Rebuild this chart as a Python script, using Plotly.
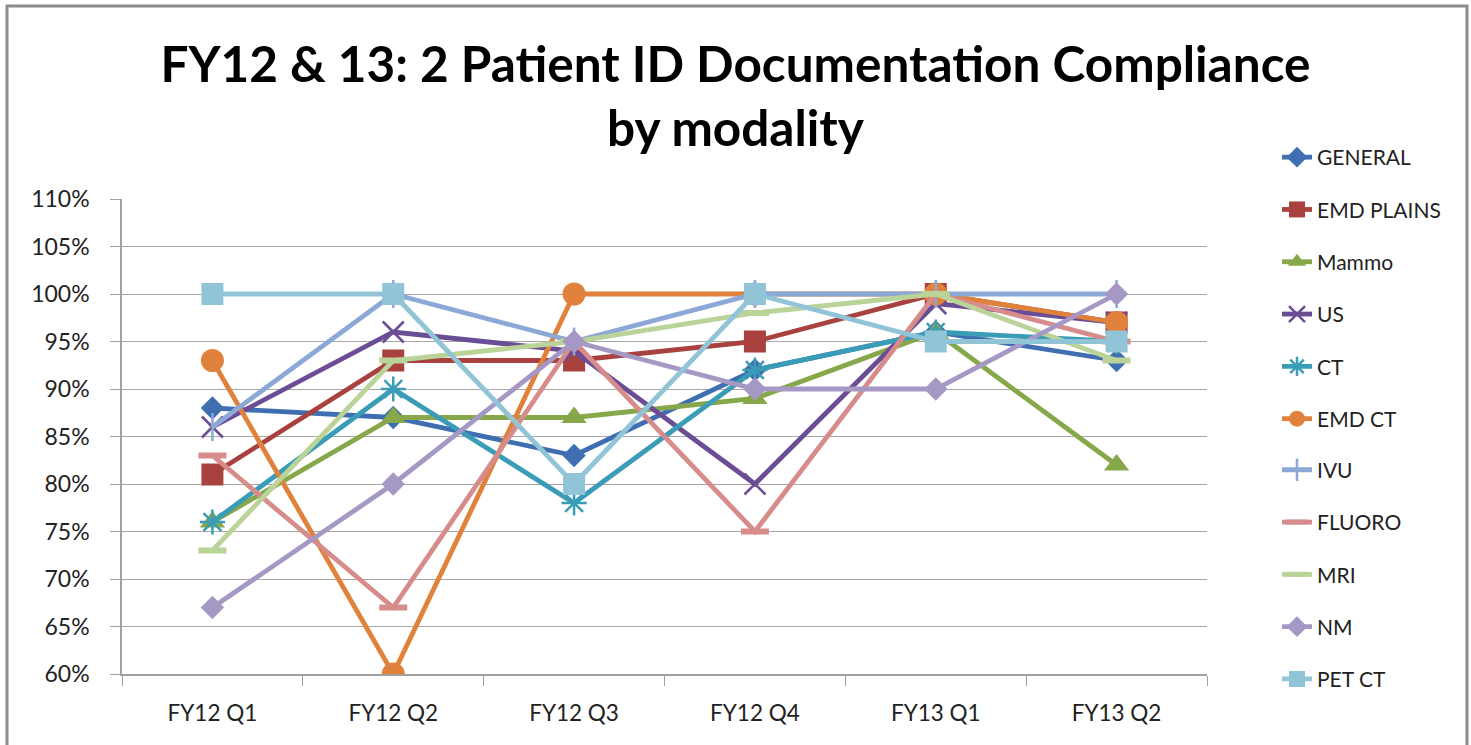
import plotly.graph_objects as go

categories = ["FY12 Q1", "FY12 Q2", "FY12 Q3", "FY12 Q4", "FY13 Q1", "FY13 Q2"]

general    = [0.88, 0.87, 0.83, 0.92, 0.96, 0.93]
emd_plains = [0.81, 0.93, 0.93, 0.95, 1.00, 0.97]
mammo      = [0.76, 0.87, 0.87, 0.89, 0.96, 0.82]
us         = [0.86, 0.96, 0.94, 0.80, 0.99, 0.97]
ct         = [0.76, 0.90, 0.78, 0.92, 0.96, 0.95]
emd_ct     = [0.93, 0.60, 1.00, 1.00, 1.00, 0.97]
ivu        = [0.86, 1.00, 0.95, 1.00, 1.00, 1.00]
fluoro     = [0.83, 0.67, 0.95, 0.75, 1.00, 0.95]
mri        = [0.73, 0.93, 0.95, 0.98, 1.00, 0.93]
nm         = [0.67, 0.80, 0.95, 0.90, 0.90, 1.00]
pet_ct     = [1.00, 1.00, 0.80, 1.00, 0.95, 0.95]

y_ticks = [0.60, 0.65, 0.70, 0.75, 0.80, 0.85, 0.90, 0.95, 1.00, 1.05, 1.10]

series = [
    ("GENERAL", general, "#3F6FB0", "diamond", 18, None),
    ("EMD PLAINS", emd_plains, "#A9423F", "square", 22, None),
    ("Mammo", mammo, "#86A84B", "triangle-up", 22, None),
    ("US", us, "#6A4D94", "x-thin-open", 21, 2.5),
    ("CT", ct, "#3A9CB6", "asterisk-open", 21, 2.5),
    ("EMD CT", emd_ct, "#E0823B", "circle", 23, None),
    ("IVU", ivu, "#8CA8D6", "line-ns-open", 20, 2.5),
    ("FLUORO", fluoro, "#D68C8B", "line-ew-open", 20, 6),
    ("MRI", mri, "#B9D398", "line-ew-open", 20, 6),
    ("NM", nm, "#A698C4", "diamond", 18, None),
    ("PET CT", pet_ct, "#92C4D8", "square", 22, None),
]

FONT = "Lato"
SPLIT = 6  # first legend block holds 6 entries, second the rest

fig = go.Figure()
for i, (name, vals, color, sym, size, lw) in enumerate(series):
    marker = dict(symbol=sym, size=size, color=color)
    if lw is not None:
        marker["line"] = dict(color=color, width=lw)
    else:
        marker["line"] = dict(width=0)
    fig.add_trace(go.Scatter(
        x=categories, y=vals, name=name, mode="lines+markers",
        line=dict(color=color, width=4.8),
        marker=marker, legendgroup=f"g{i}",
        legend="legend" if i < SPLIT else "legend2",
    ))

W, H = 1471, 745
L, R, T, B = 122, W - 1207, 199, H - 674
pw = W - L - R
ph = H - T - B

ITEM = 52.1
LEG_X = 1277
LEG_TOP = 137

legend_style = dict(
    xanchor="left", yanchor="top",
    font=dict(family=FONT, size=21, color="#222222"),
    tracegroupgap=22, bgcolor="rgba(0,0,0,0)",
    xref="container", yref="container",
)

fig.update_layout(
    width=W, height=H,
    margin=dict(l=L, r=R, t=T, b=B),
    paper_bgcolor="white", plot_bgcolor="white",
    font=dict(family=FONT, color="#222222"),
    title=dict(
        text="<b>FY12 & 13: 2 Patient ID Documentation Compliance<br>by modality</b>",
        x=0.5, xanchor="center", xref="container",
        y=1 - 82 / H, yanchor="top", yref="container",
        font=dict(family=FONT, size=49.5, color="#000000"),
    ),
    legend=dict(x=LEG_X / W, y=1 - LEG_TOP / H, **legend_style),
    legend2=dict(x=LEG_X / W, y=1 - (LEG_TOP + SPLIT * ITEM) / H, **legend_style),
    showlegend=True,
)

fig.update_xaxes(
    type="category", range=[-0.5, 5.5],
    showline=True, linecolor="#A0A0A0", linewidth=1.5,
    ticks="outside", tickson="boundaries", ticklen=10, tickcolor="#A0A0A0",
    showgrid=False, ticklabelstandoff=18,
    tickfont=dict(family=FONT, size=22.5, color="#222222"),
)
fig.update_yaxes(
    range=[0.60, 1.10], tickvals=y_ticks, tickformat=".0%",
    showline=True, linecolor="#A0A0A0", linewidth=1.5,
    ticks="outside", ticklen=10, tickcolor="#A0A0A0",
    showgrid=True, gridcolor="#A6A6A6", gridwidth=1.3,
    zeroline=False, ticklabelstandoff=16,
    tickfont=dict(family=FONT, size=23, color="#222222"),
)

# chart frame
fig.add_shape(
    type="rect", xref="paper", yref="paper",
    x0=(7 - L) / pw, x1=(1467 - L) / pw,
    y0=(H - B - 760) / ph, y1=(H - B - 6) / ph,
    line=dict(color="#8C8C8C", width=3), fillcolor="rgba(0,0,0,0)",
    layer="below",
)

fig.write_html(
    "out.html",
    config={"displayModeBar": False},
    post_script="document.body.style.margin='0px';",
)
